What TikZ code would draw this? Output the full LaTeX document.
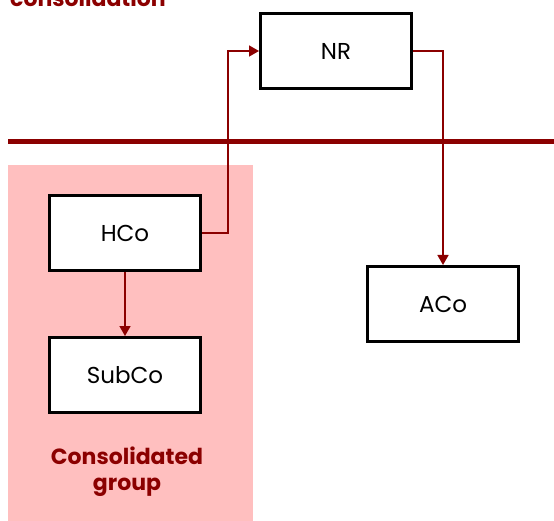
\documentclass[tikz,border=0pt]{standalone}
\usepackage{fontspec}
\setmainfont{Poppins}
\usetikzlibrary{arrows.meta}
\definecolor{darkred}{HTML}{8B0000}
\definecolor{grouppink}{HTML}{FFBFBF}

\begin{document}
\begin{tikzpicture}[x=1pt,y=-1pt,
	entity/.style={draw=black,line width=3pt,fill=white,minimum width=151pt,minimum height=75pt,
		inner sep=0pt,font=\fontsize{23}{27}\selectfont},
	owns/.style={draw=darkred,line width=1.6pt,-{Triangle[length=10pt,width=11pt]}},
	grouplabel/.style={text=darkred,font=\bfseries\fontsize{22}{26}\selectfont}]
	%\draw[help lines] (0,0) grid[step=50] (554,521);
	\useasboundingbox (0,0) rectangle (554,521);
	\fill[grouppink] (8,165) rectangle (253,521);
	\node[grouplabel,anchor=base west,inner sep=0pt] (title) at (10,7) {consolidation};
	\coordinate (sepL) at (8,142);
	\coordinate (sepR) at (554,142);
	\draw[darkred,line width=5pt] (sepL) -- (sepR);
	
	\node[entity] (NR) at (336,51) {NR};
	\node[entity] (HCo) at (125,233) {HCo};
	\node[entity] (SubCo) at (125,375) {SubCo};
	\node[entity] (ACo) at (443,304) {ACo};
	\node[grouplabel,align=center] (cg) at (127,472) {Consolidated\\group};
	
	\draw[owns] (HCo.east) -- ++(26,0) |- (NR.west);
	\draw[owns] (NR.east) -| (ACo.north);
	\draw[owns] (HCo) -- (SubCo);
\end{tikzpicture}
\end{document}
